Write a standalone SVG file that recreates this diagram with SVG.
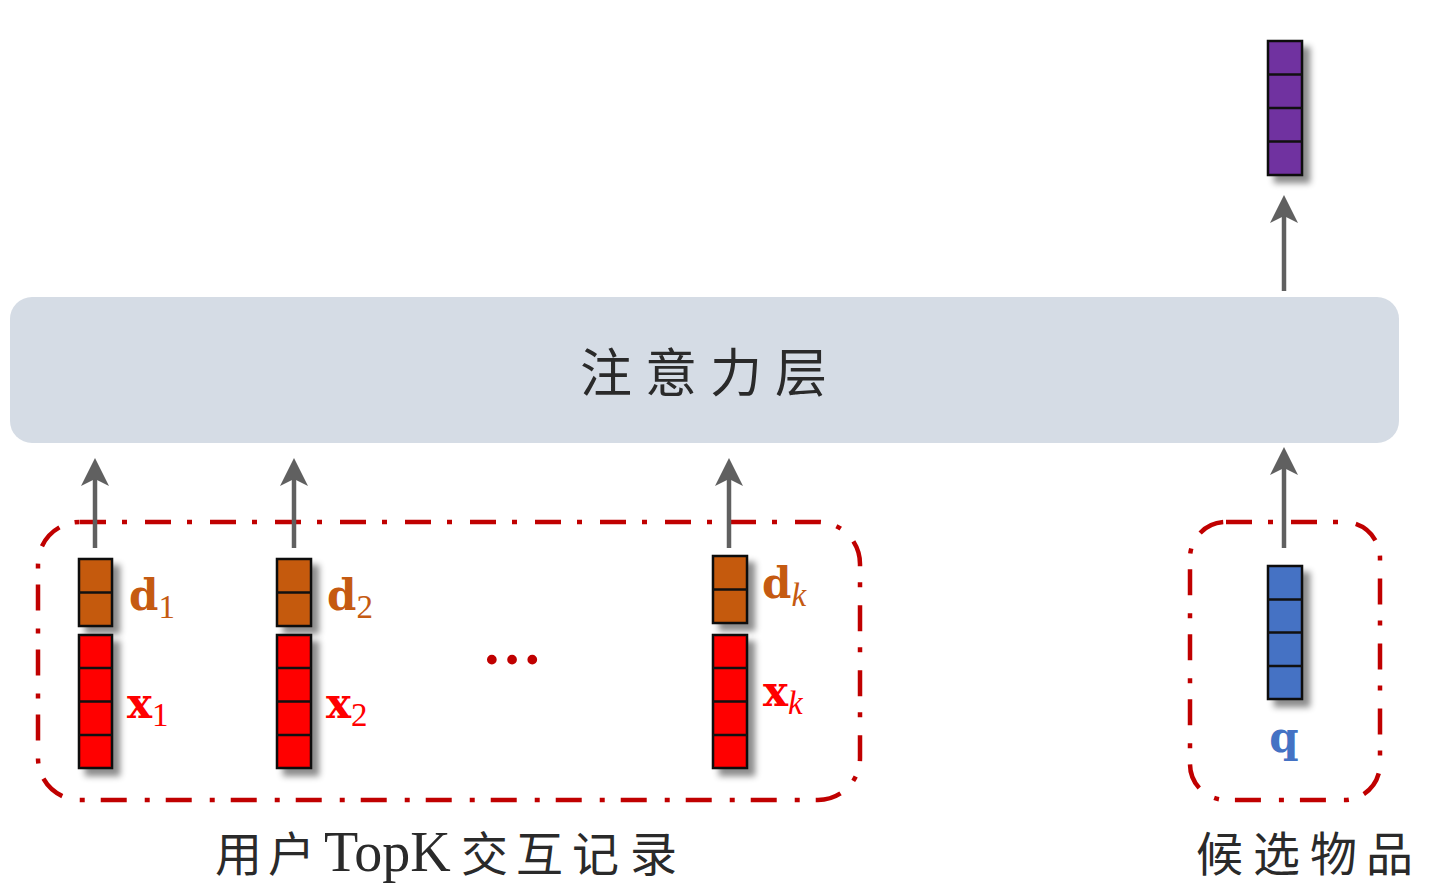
<svg xmlns="http://www.w3.org/2000/svg" width="1454" height="892" viewBox="0 0 1454 892">
<style>
.cell{stroke:#111;stroke-width:2.5}
.sep{stroke:#111;stroke-width:2.5}
.arr{stroke:#606060;stroke-width:4.5;fill:none}
.box{fill:none;stroke:#C00000;stroke-width:4.5;stroke-dasharray:26 16 5 18}
.lbl{font-family:"DejaVu Serif","Liberation Serif",serif;font-weight:bold;font-size:42px}
.sub{font-family:"Liberation Serif",serif;font-weight:normal;font-size:33px}
.cjk{font-family:"Noto Sans CJK SC","Noto Sans CJK TC",sans-serif;fill:#2a2a2a}
</style>
<defs>
<marker id="ah" markerUnits="userSpaceOnUse" markerWidth="34" markerHeight="34" viewBox="-2 -17 34 34" refX="18" refY="0" orient="auto">
<path d="M0,-14 L28,0 L0,14 L7,0 Z" fill="#606060"/>
</marker>
<filter id="sh" x="-50%" y="-20%" width="200%" height="140%">
<feDropShadow dx="7" dy="7" stdDeviation="3" flood-color="#000" flood-opacity="0.45"/>
</filter>
</defs>

<g id="attention">
<rect x="10" y="297" width="1389" height="146" rx="22" fill="#D5DCE5"/>
<text class="cjk" y="392" font-size="52"><tspan x="580">注</tspan><tspan x="645">意</tspan><tspan x="710">力</tspan><tspan x="775">层</tspan></text>
</g>

<g id="user-group">
<rect class="box" x="38" y="522" width="822" height="278" rx="42"/>
<text class="cjk" y="871" font-size="47"><tspan x="215">用</tspan><tspan x="268">户</tspan><tspan x="324" font-family="Liberation Serif,serif" font-size="56">TopK</tspan><tspan x="461">交</tspan><tspan x="516">互</tspan><tspan x="572">记</tspan><tspan x="630">录</tspan></text>
</g>

<g id="cand-group">
<rect class="box" x="1190" y="522" width="190" height="278" rx="36"/>
<text class="cjk" y="871" font-size="47"><tspan x="1196">候</tspan><tspan x="1253">选</tspan><tspan x="1310">物</tspan><tspan x="1366">品</tspan></text>
</g>

<g id="d1">
<g filter="url(#sh)"><rect class="cell" x="79" y="559" width="33" height="67" fill="#C55A11"/></g>
<line class="sep" x1="79" y1="592.5" x2="112" y2="592.5"/>
<text class="lbl" x="129" y="610" fill="#C55A11">d<tspan class="sub" dy="8">1</tspan></text>
</g>
<g id="x1">
<g filter="url(#sh)"><rect class="cell" x="79" y="635" width="33" height="133" fill="#FF0000"/></g>
<path class="sep" d="M79,668 H112 M79,701.5 H112 M79,735 H112"/>
<text class="lbl" x="127" y="718" fill="#FF0000">x<tspan class="sub" dy="8">1</tspan></text>
</g>

<g id="d2">
<g filter="url(#sh)"><rect class="cell" x="277" y="559" width="34" height="67" fill="#C55A11"/></g>
<line class="sep" x1="277" y1="592.5" x2="311" y2="592.5"/>
<text class="lbl" x="327" y="610" fill="#C55A11">d<tspan class="sub" dy="8">2</tspan></text>
</g>
<g id="x2">
<g filter="url(#sh)"><rect class="cell" x="277" y="635" width="34" height="133" fill="#FF0000"/></g>
<path class="sep" d="M277,668 H311 M277,701.5 H311 M277,735 H311"/>
<text class="lbl" x="326" y="718" fill="#FF0000">x<tspan class="sub" dy="8">2</tspan></text>
</g>

<g id="ellipsis">
<text x="482" y="664" font-family="Liberation Serif,serif" font-weight="bold" font-size="60" fill="#C00000">…</text>
</g>

<g id="dk">
<g filter="url(#sh)"><rect class="cell" x="713" y="556" width="34" height="67" fill="#C55A11"/></g>
<line class="sep" x1="713" y1="589.5" x2="747" y2="589.5"/>
<text class="lbl" x="762" y="598" fill="#C55A11">d<tspan class="sub" font-style="italic" dy="8">k</tspan></text>
</g>
<g id="xk">
<g filter="url(#sh)"><rect class="cell" x="713" y="635" width="34" height="133" fill="#FF0000"/></g>
<path class="sep" d="M713,668 H747 M713,701.5 H747 M713,735 H747"/>
<text class="lbl" x="763" y="706" fill="#FF0000">x<tspan class="sub" font-style="italic" dy="8">k</tspan></text>
</g>

<g id="q">
<g filter="url(#sh)"><rect class="cell" x="1268" y="566" width="34" height="133" fill="#4472C4"/></g>
<path class="sep" d="M1268,599.5 H1302 M1268,632.5 H1302 M1268,666 H1302"/>
<text class="lbl" x="1284" y="752" font-size="58" text-anchor="middle" fill="#4472C4">q</text>
</g>

<g id="output">
<g filter="url(#sh)"><rect class="cell" x="1268" y="41" width="34" height="134" fill="#7030A0"/></g>
<path class="sep" d="M1268,74.5 H1302 M1268,108 H1302 M1268,141.5 H1302"/>
</g>

<g id="connectors">
<line class="arr" x1="95" y1="548" x2="95" y2="468" marker-end="url(#ah)"/>
<line class="arr" x1="294" y1="548" x2="294" y2="468" marker-end="url(#ah)"/>
<line class="arr" x1="729" y1="548" x2="729" y2="468" marker-end="url(#ah)"/>
<line class="arr" x1="1284" y1="548" x2="1284" y2="457" marker-end="url(#ah)"/>
<line class="arr" x1="1284" y1="291" x2="1284" y2="205" marker-end="url(#ah)"/>
</g>
</svg>
